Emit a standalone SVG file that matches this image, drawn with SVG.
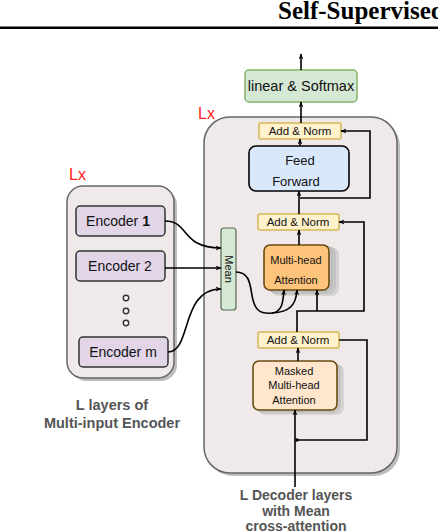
<svg xmlns="http://www.w3.org/2000/svg" width="438" height="532" viewBox="0 0 438 532">
<defs>
<marker id="ah" viewBox="0 0 10 10" refX="9" refY="5" markerWidth="6" markerHeight="6" orient="auto" markerUnits="userSpaceOnUse"><path d="M0,1 L10,5 L0,9 L3,5 z" fill="#000"/></marker>
</defs>
<style>
.t{font-family:"Liberation Sans",Arial,sans-serif;fill:#111;text-anchor:middle}
.cap{font-family:"Liberation Sans",Arial,sans-serif;fill:#555;font-weight:bold;text-anchor:middle}
.lx{font-family:"Liberation Sans",Arial,sans-serif;fill:#ff2020;font-size:16px}
.an{fill:#fff2cc;stroke:#d6b656;stroke-width:1.5}
.c{fill:none;stroke:#000;stroke-width:1.6}
.sh{fill:#bdbdbd}
.stk{fill:#c8c8c8;stroke:#b0b0b0;stroke-width:1}
.enc{fill:#e1d5e7;stroke:#333;stroke-width:1.5}
</style>
<rect width="438" height="532" fill="#fff"/>
<text x="278" y="19" font-family="Liberation Serif,Times New Roman,serif" font-weight="bold" font-size="25" fill="#000">Self-Supervised</text>
<rect x="0" y="26.5" width="438" height="2.5" fill="#000"/>

<g id="encoder-block">
<rect x="70" y="189" width="107" height="192" rx="16" class="sh"/>
<rect x="67" y="186" width="107" height="192" rx="16" fill="#efe9e9" stroke="#666" stroke-width="1.5"/>
<text x="69" y="180" class="lx">Lx</text>
<text x="112" y="410" class="cap" font-size="14.5">L layers of</text>
<text x="112" y="428" class="cap" font-size="14.5">Multi-input Encoder</text>
</g>
<g id="encoder1"><rect x="76" y="206" width="89" height="30" rx="4" class="enc"/><text x="118" y="226" class="t" font-size="14">Encoder <tspan font-weight="bold">1</tspan></text></g>
<g id="encoder2"><rect x="76" y="251" width="89" height="30" rx="4" class="enc"/><text x="120" y="271" class="t" font-size="14">Encoder 2</text></g>
<g id="dots" fill="#fff" stroke="#333" stroke-width="1.5"><circle cx="126" cy="298" r="2.7"/><circle cx="126" cy="311" r="2.7"/><circle cx="126" cy="323" r="2.7"/></g>
<g id="encoderm"><rect x="79" y="337" width="89" height="30" rx="4" class="enc"/><text x="123" y="357" class="t" font-size="14">Encoder m</text></g>

<g id="decoder-block">
<rect x="207" y="120" width="193" height="356" rx="26" class="sh"/>
<rect x="204" y="117" width="193" height="356" rx="26" fill="#efe9e9" stroke="#666" stroke-width="1.5"/>
<text x="198" y="119" class="lx" font-size="15">Lx</text>
<text x="296" y="500" class="cap" font-size="14">L Decoder layers</text>
<text x="296" y="516" class="cap" font-size="14">with Mean</text>
<text x="296" y="531" class="cap" font-size="14">cross-attention</text>
</g>
<g id="linear-softmax"><rect x="245" y="70" width="112" height="32" rx="4" fill="#d5e8d4" stroke="#82b366" stroke-width="1.5"/><text x="301" y="91" class="t" font-size="14.5">linear &amp; Softmax</text></g>
<g id="addnorm-top"><rect x="259" y="123" width="82" height="16" rx="2" class="an"/><text x="300" y="135" class="t" font-size="11.5">Add &amp; Norm</text></g>
<g id="feed-forward"><rect x="249" y="146" width="100" height="45" rx="7" fill="#dae8fc" stroke="#000" stroke-width="1.6"/><text x="300" y="165" class="t" font-size="13">Feed</text><text x="296" y="186" class="t" font-size="13">Forward</text></g>
<g id="addnorm-mid"><rect x="258" y="214" width="81" height="16" rx="2" class="an"/><text x="298" y="226" class="t" font-size="11.5">Add &amp; Norm</text></g>
<g id="multihead">
<rect x="272" y="248" width="66" height="47" rx="6" class="stk" opacity="0.6"/>
<rect x="269" y="247" width="66" height="46" rx="6" class="stk" opacity="0.8"/>
<rect x="266" y="246" width="66" height="45" rx="6" class="stk"/>
<rect x="264" y="245" width="65" height="45" rx="6" fill="#ffc47c" stroke="#6b4a0f" stroke-width="1.6"/>
<text x="296" y="264" class="t" font-size="11">Multi-head</text><text x="296" y="284" class="t" font-size="11">Attention</text></g>
<g id="mean"><rect x="221" y="228" width="15" height="82" rx="3" fill="#d5e8d4" stroke="#556b55" stroke-width="1.2"/><text transform="translate(224.5,269) rotate(90)" class="t" font-size="11">Mean</text></g>
<g id="addnorm-low"><rect x="258" y="332" width="81" height="16" rx="2" class="an"/><text x="298" y="344" class="t" font-size="11.5">Add &amp; Norm</text></g>
<g id="masked-mha">
<rect x="259" y="365" width="84" height="49" rx="6" class="stk" opacity="0.6"/>
<rect x="256" y="363" width="84" height="49" rx="6" class="stk" opacity="0.8"/>
<rect x="253" y="361" width="84" height="49" rx="6" fill="#ffe6cc" stroke="#6b4a0f" stroke-width="1.6"/>
<text x="294" y="375" class="t" font-size="11">Masked</text><text x="294" y="389" class="t" font-size="11">Multi-head</text><text x="294" y="404" class="t" font-size="11">Attention</text></g>

<g id="connectors">
<path d="M301,70 V54" class="c" marker-end="url(#ah)"/>
<path d="M301,123 V102" class="c" marker-end="url(#ah)"/>
<path d="M300,146 V139" class="c" marker-end="url(#ah)"/>
<path d="M300,198 H370 V131 H341" class="c" marker-end="url(#ah)"/>
<path d="M299,214 V191" class="c" marker-end="url(#ah)"/>
<path d="M299,245 V230" class="c" marker-end="url(#ah)"/>
<path d="M297,332 V311 H364 V222 H339" class="c" marker-end="url(#ah)"/>
<path d="M317,311 V290" class="c" marker-end="url(#ah)"/>
<path d="M236,272 C252,272 250,290 253,300 C256,312 262,314 272,313 C283,312 283,300 284,290" class="c" marker-end="url(#ah)"/>
<path d="M272,313 C290,312 296,305 297,290" class="c" marker-end="url(#ah)"/>
<path d="M298,361 V348" class="c" marker-end="url(#ah)"/>
<path d="M295,487 V410" class="c" marker-end="url(#ah)"/>
<path d="M339,340 H367 V440 H297" class="c"/>
<circle cx="297" cy="440" r="1.8" fill="#000"/>
<path d="M165,221 C190,221 180,248 221,248" class="c" marker-end="url(#ah)"/>
<path d="M165,268 H221" class="c" marker-end="url(#ah)"/>
<path d="M168,352 C192,352 180,289 221,289" class="c" marker-end="url(#ah)"/>
</g>
</svg>
